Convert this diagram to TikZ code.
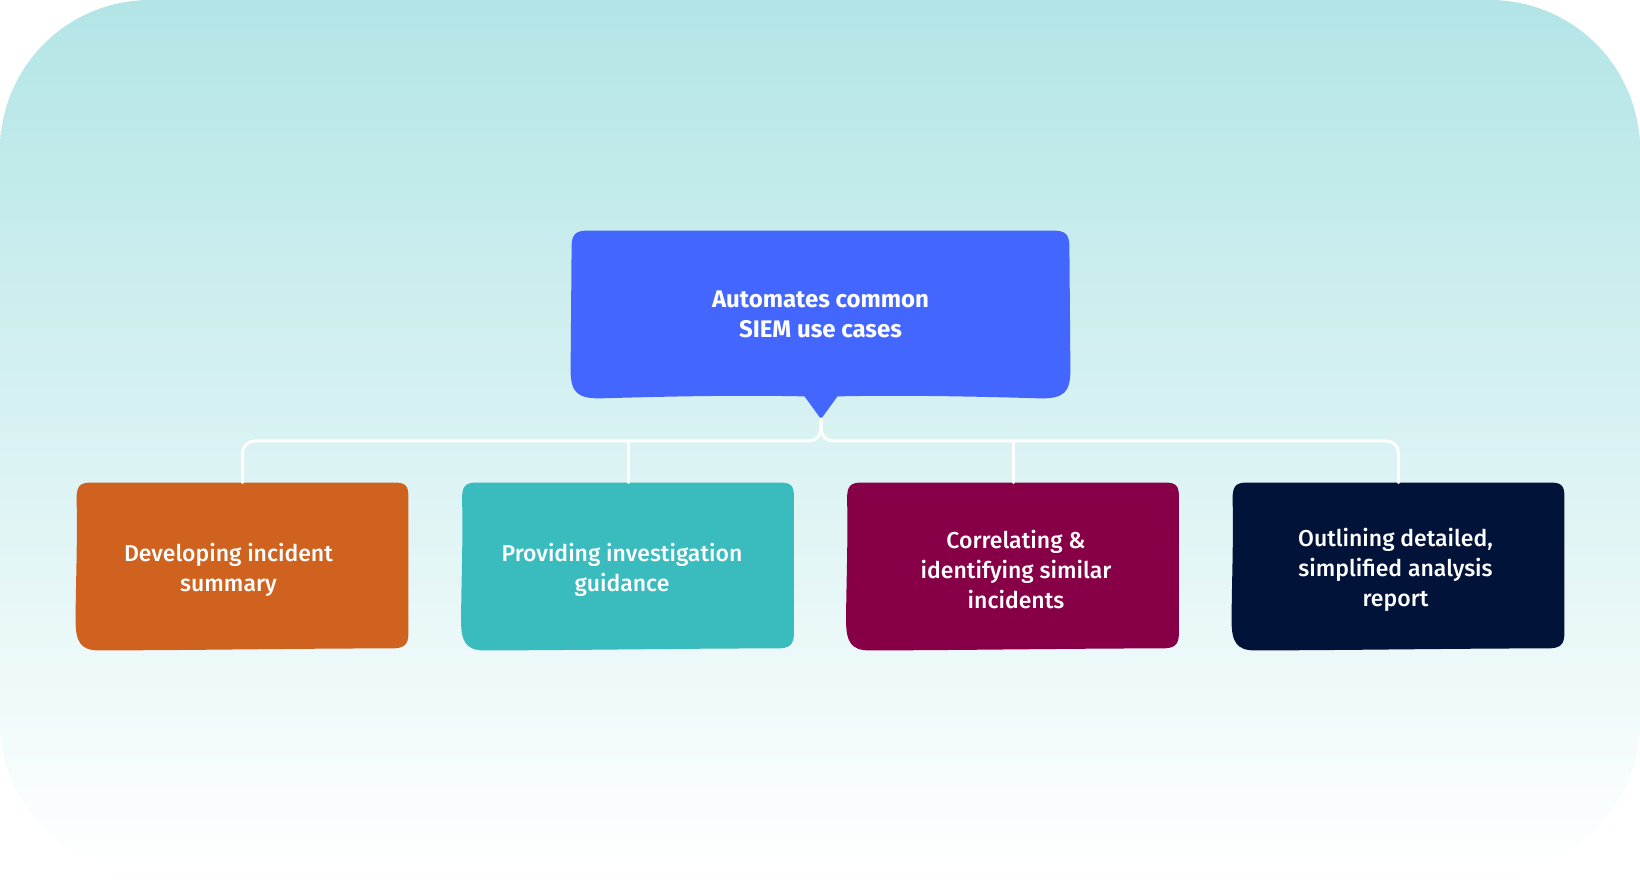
\documentclass[tikz,border=0pt]{standalone}
\usepackage{fontspec}
\setmainfont{Fira Sans}
\newfontfamily\mediumfont{Fira Sans Medium}
\usetikzlibrary{calc,backgrounds}
\definecolor{SkyTop}{HTML}{B3E5E6}
\definecolor{SkyMid}{HTML}{D3E7EE}
\definecolor{CaseBlue}{HTML}{4366FF}
\definecolor{CaseOrange}{HTML}{D0621F}
\definecolor{CaseTeal}{HTML}{3ABBBD}
\definecolor{CasePlum}{HTML}{870047}
\definecolor{CaseNavy}{HTML}{02133A}
\tikzset{
    usecase/diagram/.style={
        x=0.5pt, y=-0.5pt,
        line cap=round,
        line join=round
    },
    usecase/root/.style={
        text=white, align=center, inner sep=0pt,
        minimum width=248.5pt, minimum height=83.5pt,
        font=\bfseries\fontsize{12}{15}\selectfont
    },
    usecase/leaf/.style={
        inner sep=0pt, minimum width=165.5pt, minimum height=83pt
    },
    usecase/caption/.style={
        text=white, align=center, inner sep=0pt, yshift=-2pt,
        font=\mediumfont\fontsize{11.5}{15}\selectfont
    },
    usecase/link/.style={draw=white, line width=1.5pt, rounded corners=6pt}
}
% hand-drawn looking card behind a node
\newcommand\casefill[2]{
    \fill[#2] ($(#1.north west)+(14,0)$) -- ($(#1.north east)+(-14,0)$)
        .. controls ($(#1.north east)+(-3,0)$) and ($(#1.north east)+(0,3)$) .. ($(#1.north east)+(0,14)$)
        -- ($(#1.south east)+(0,-16)$)
        .. controls ($(#1.south east)+(0,-4)$) and ($(#1.south east)+(-5,-1)$) .. ($(#1.south east)+(-17,-1)$)
        .. controls ($(#1.south)+(60,-1)$) and ($(#1.south)+(-60,1)$) .. ($(#1.south west)+(22,1)$)
        .. controls ($(#1.south west)+(4,1)$) and ($(#1.south west)+(-1,-8)$) .. ($(#1.south west)+(-1,-28)$)
        .. controls ($(#1.west)+(-1,20)$) and ($(#1.west)+(1,-20)$) .. ($(#1.north west)+(0,16)$)
        .. controls ($(#1.north west)+(0,4)$) and ($(#1.north west)+(3,0)$) .. ($(#1.north west)+(14,0)$) -- cycle;
}

\begin{document}
\begin{tikzpicture}[usecase/diagram]
    \useasboundingbox (0,0) rectangle (1640,881);
    \node[usecase/root] (root) at (820.5,314.5) {Automates common\\SIEM use cases};
    \coordinate (tip) at (821,419);
    \coordinate (fork) at ($(tip)+(0,22)$);
    \node[usecase/leaf, label={[usecase/caption, xshift=-7pt]center:{Developing incident\\summary}}]
        (summary) at (242.5,566) {};
    \node[usecase/leaf, label={[usecase/caption, xshift=-3pt]center:{Providing investigation\\guidance}}]
        (guidance) at (628,566) {};
    \node[usecase/leaf, label={[usecase/caption, xshift=1.5pt]center:{Correlating \&\\identifying similar\\incidents}}]
        (correlate) at (1013,566) {};
    \node[usecase/leaf, label={[usecase/caption, xshift=-1.5pt]center:{Outlining detailed,\\simplified analysis\\report}}]
        (report) at (1398.5,566) {};
    \begin{scope}[on background layer]
        \shade[top color=SkyTop, middle color=SkyMid, bottom color=white, rounded corners=75pt]
            (0,0) rectangle (1640,872);
        \fill[CaseBlue] ($(root.north west)+(16,0)$) -- ($(root.north east)+(-16,0)$)
            .. controls ($(root.north east)+(-4,0)$) and ($(root.north east)+(0,4)$) .. ($(root.north east)+(0,16)$)
            -- ($(root.south east)+(1,-28)$)
            .. controls ($(root.south east)+(1,-6)$) and ($(root.south east)+(-6,0)$) .. ($(root.south east)+(-28,0)$)
            .. controls ($(root.south)+(120,-3)$) and ($(root.south)+(60,-3)$) .. ($(root.south)+(17,-2)$)
            -- (tip) -- ($(root.south)+(-16,-2)$)
            .. controls ($(root.south)+(-60,-3)$) and ($(root.south)+(-120,-3)$) .. ($(root.south west)+(28,0)$)
            .. controls ($(root.south west)+(6,0)$) and ($(root.south west)+(-1,-6)$) .. ($(root.south west)+(-1,-28)$)
            -- ($(root.north west)+(0,16)$)
            .. controls ($(root.north west)+(0,4)$) and ($(root.north west)+(4,0)$) .. ($(root.north west)+(16,0)$) -- cycle;
        \casefill{summary}{CaseOrange}
        \casefill{guidance}{CaseTeal}
        \casefill{correlate}{CasePlum}
        \casefill{report}{CaseNavy}
    \end{scope}
    \draw[usecase/link] (tip) -- (fork) -| (summary.north);
    \draw[usecase/link] (tip) -- (fork) -| (report.north);
    \draw[usecase/link] (guidance.north) -- (guidance.north |- fork);
    \draw[usecase/link] (correlate.north) -- (correlate.north |- fork);
\end{tikzpicture}
\end{document}
